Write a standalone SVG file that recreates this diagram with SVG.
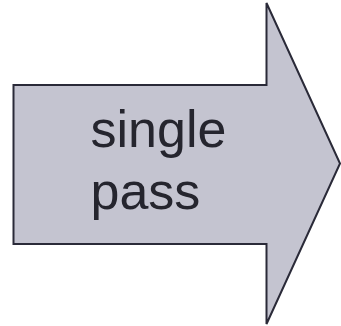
<svg xmlns="http://www.w3.org/2000/svg" width="341" height="326" viewBox="0 0 341 326">
<style>
.shape{fill:#c4c4d0;stroke:#2a2a38;stroke-width:2;stroke-linejoin:miter}
.lbl{font-family:"Liberation Sans",Arial,sans-serif;font-size:52px;fill:#25252e}
</style>
<rect width="341" height="326" fill="#ffffff"/>
<g id="arrow">
<polygon class="shape" points="13.5,85 266.5,85 266.5,3 340,163.5 266.5,324 266.5,244 13.5,244"/>
<text class="lbl" x="90.5" y="147">single</text>
<text class="lbl" x="90.5" y="209">pass</text>
</g>
</svg>
